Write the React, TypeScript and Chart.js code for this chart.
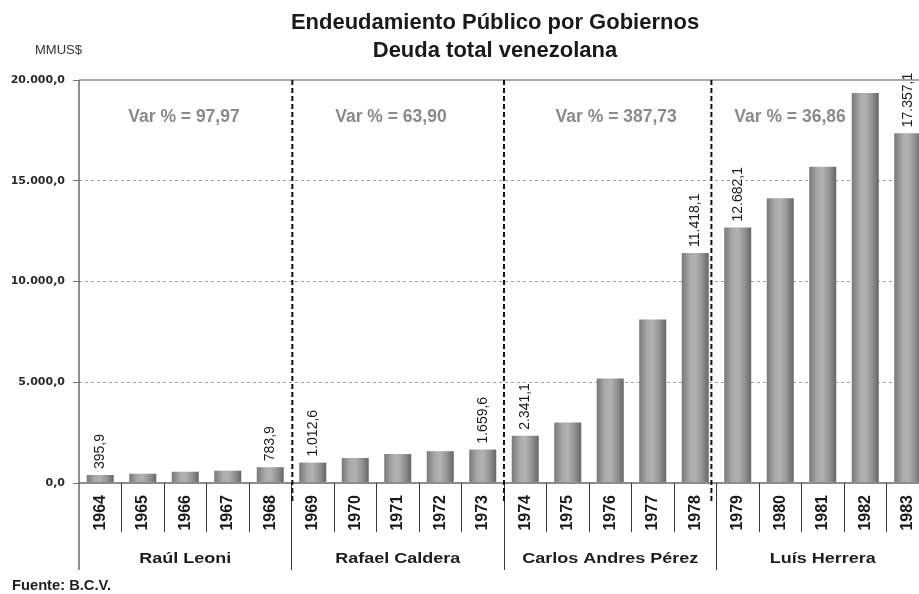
import React, { useEffect, useRef } from 'react';
import { Chart, registerables } from 'chart.js';

Chart.register(...registerables);

// ---- data ----
const years = ['1964', '1965', '1966', '1967', '1968', '1969', '1970', '1971', '1972', '1973',
  '1974', '1975', '1976', '1977', '1978', '1979', '1980', '1981', '1982', '1983'];
const deuda = [395.9, 460, 560, 610, 783.9, 1012.6, 1240, 1440, 1580, 1659.6,
  2341.1, 3000, 5190, 8110, 11418.1, 12682.1, 14130, 15700, 19350, 17357.1];
const labeledYears = ['1964', '1968', '1969', '1973', '1974', '1978', '1979', '1983'];
const gobiernos = ['Raúl Leoni', 'Rafael Caldera', 'Carlos Andres Pérez', 'Luís Herrera'];
const varPct = ['97,97', '63,90', '387,73', '36,86'];
const yTickValues = [0, 5000, 10000, 15000, 20000];
const titleLines = ['Endeudamiento Público por Gobiernos', 'Deuda total venezolana'];
const unitLabel = 'MMUS$';
const sourceLabel = 'Fuente: B.C.V.';

// ---- layout constants (styling, not data) ----
const W = 919;
const H = 594;
const X_MIN = -0.5;
const X_MAX = 19.265;
const BAR_PCT = 0.635;
const VAR_X = [1.97, 6.84, 12.14, 16.23];
const DASH_X = [4.52, 9.5, 14.38];
const FONT = '"Liberation Sans", Arial, Helvetica, sans-serif';

function fmt(v: number): string {
  const [i, d] = v.toFixed(1).split('.');
  return i.replace(/\B(?=(\d{3})+(?!\d))/g, '.') + ',' + d;
}

function stretchText(ctx: CanvasRenderingContext2D, text: string, x: number, y: number,
  font: string, color: string, align: CanvasTextAlign, sx: number) {
  ctx.save();
  ctx.font = font;
  ctx.fillStyle = color;
  ctx.textAlign = align;
  ctx.textBaseline = 'alphabetic';
  ctx.translate(x, y);
  ctx.scale(sx, 1);
  ctx.fillText(text, 0, 0);
  ctx.restore();
}

const decorPlugin = {
  id: 'decor',
  afterDatasetsDraw(chart: any) {
    const { ctx, chartArea: a, scales } = chart;
    const x = scales.x;
    const y = scales.y;
    const y0 = y.getPixelForValue(0);
    const yTop = y.getPixelForValue(20000);
    const line = (x1: number, y1: number, x2: number, y2: number) => {
      ctx.beginPath();
      ctx.moveTo(x1, y1);
      ctx.lineTo(x2, y2);
      ctx.stroke();
    };
    ctx.save();
    // top border and zero line
    ctx.strokeStyle = '#8c8c8c';
    ctx.lineWidth = 1.5;
    line(a.left, yTop, a.right, yTop);
    ctx.lineWidth = 2;
    line(a.left, y0, a.right, y0);
    // left axis line extending through the label area
    ctx.strokeStyle = '#6a6a6a';
    ctx.lineWidth = 1.5;
    line(a.left, yTop, a.left, 570);
    // category / group separators below the axis
    ctx.strokeStyle = '#3a3a3a';
    ctx.lineWidth = 1;
    for (let k = 1; k <= years.length; k++) {
      const xp = Math.round(x.getPixelForValue(k - 0.5)) + 0.5;
      if (xp > a.right + 1) continue;
      const bottom = k % 5 === 0 ? 570 : 532;
      line(xp, y0, xp, bottom);
    }
    // dashed government boundaries
    ctx.setLineDash([5, 3]);
    ctx.strokeStyle = '#111';
    ctx.lineWidth = 2;
    DASH_X.forEach((d) => {
      const xp = x.getPixelForValue(d);
      line(xp, yTop, xp, 503);
    });
    ctx.setLineDash([]);
    // value labels
    const meta = chart.getDatasetMeta(0);
    labeledYears.forEach((yr) => {
      const i = years.indexOf(yr);
      const el = meta.data[i];
      if (!el) return;
      ctx.save();
      ctx.translate(el.x, el.y - 6);
      ctx.rotate(-Math.PI / 2);
      ctx.font = '14px ' + FONT;
      ctx.fillStyle = '#1a1a1a';
      ctx.textAlign = 'left';
      ctx.textBaseline = 'middle';
      ctx.fillText(fmt(deuda[i]), 0, 0);
      ctx.restore();
    });
    // Var % labels
    varPct.forEach((v, g) => {
      stretchText(ctx, 'Var % = ' + v, x.getPixelForValue(VAR_X[g]), yTop + 42,
        'bold 17.5px ' + FONT, '#8a8a8a', 'center', 1);
    });
    // government labels
    gobiernos.forEach((name, g) => {
      stretchText(ctx, name, x.getPixelForValue(g * 5 + 2), 563,
        'bold 15px ' + FONT, '#1e1e1e', 'center', 1.2);
    });
    // title
    stretchText(ctx, titleLines[0], 495, 29, 'bold 22px ' + FONT, '#1a1a1a', 'center', 1);
    stretchText(ctx, titleLines[1], 495, 57, 'bold 22px ' + FONT, '#1a1a1a', 'center', 1);
    // unit label
    stretchText(ctx, unitLabel, 35, 54, '13px ' + FONT, '#333', 'left', 1);
    // source
    stretchText(ctx, sourceLabel, 12, 590, 'bold 14px ' + FONT, '#1e1e1e', 'left', 1.05);
    ctx.restore();
  },
};

function barGradient(c: any) {
  const chart = c.chart;
  const xs = chart.scales && chart.scales.x;
  if (!xs || c.dataIndex == null || !chart.chartArea) return '#9a9a9a';
  const px = xs.getPixelForValue(c.dataIndex);
  const w = Math.abs(xs.getPixelForValue(1) - xs.getPixelForValue(0)) * BAR_PCT;
  const g = chart.ctx.createLinearGradient(px - w / 2, 0, px + w / 2, 0);
  g.addColorStop(0, '#787878');
  g.addColorStop(0.3, '#a9a9a9');
  g.addColorStop(0.5, '#b2b2b2');
  g.addColorStop(0.75, '#939393');
  g.addColorStop(1, '#666666');
  return g;
}

export default function App() {
  const ref = useRef<HTMLCanvasElement | null>(null);
  useEffect(() => {
    if (!ref.current) return;
    const chart = new Chart(ref.current, {
      type: 'bar',
      data: {
        datasets: [
          {
            data: deuda.map((v, i) => ({ x: i, y: v })),
            backgroundColor: barGradient,
            borderWidth: 0,
            barPercentage: BAR_PCT,
            categoryPercentage: 1,
          },
        ],
      },
      options: {
        responsive: false,
        maintainAspectRatio: false,
        animation: false,
        devicePixelRatio: 1,
        layout: { padding: { top: 80, left: 0, right: 0, bottom: 0 } },
        plugins: { legend: { display: false }, tooltip: { enabled: false }, title: { display: false } },
        scales: {
          x: {
            type: 'linear',
            min: X_MIN,
            max: X_MAX,
            offset: false,
            grid: { display: false, drawTicks: false },
            border: { display: false },
            afterBuildTicks: (s: any) => {
              s.ticks = years.map((_, i) => ({ value: i }));
            },
            afterFit: (s: any) => {
              s.height = H - 483;
              s.paddingLeft = 0;
              s.paddingRight = 0;
            },
            ticks: {
              autoSkip: false,
              minRotation: 90,
              maxRotation: 90,
              padding: 12,
              color: '#1a1a1a',
              font: { family: FONT, size: 16, weight: 'bold' },
              callback: (v: any) => years[Math.round(Number(v))] ?? '',
            },
          },
          y: {
            min: 0,
            max: 20000,
            afterBuildTicks: (s: any) => {
              s.ticks = yTickValues.map((v) => ({ value: v }));
            },
            afterFit: (s: any) => {
              s.width = 79;
              s.paddingTop = 0;
              s.paddingBottom = 0;
            },
            grid: {
              color: (c: any) => (c.tick && (c.tick.value === 0 || c.tick.value === 20000) ? 'rgba(0,0,0,0)' : '#a0a0a0'),
              lineWidth: 1,
              drawTicks: true,
              tickLength: 6,
              tickColor: '#777',
              tickWidth: 1,
            },
            border: { display: false, dash: [3, 3] },
            ticks: {
              padding: 8,
              color: '#2a2a2a',
              font: { family: '"DejaVu Sans", sans-serif', size: 11, weight: 'bold' },
              callback: (v: any) => fmt(Number(v)),
            },
          },
        },
      },
      plugins: [decorPlugin],
    } as any);
    return () => chart.destroy();
  }, []);
  return (
    <div style={{ position: 'fixed', left: 0, top: 0, width: W, height: H, background: '#fff' }}>
      <canvas ref={ref} width={W} height={H} style={{ display: 'block', width: W, height: H }} />
    </div>
  );
}
